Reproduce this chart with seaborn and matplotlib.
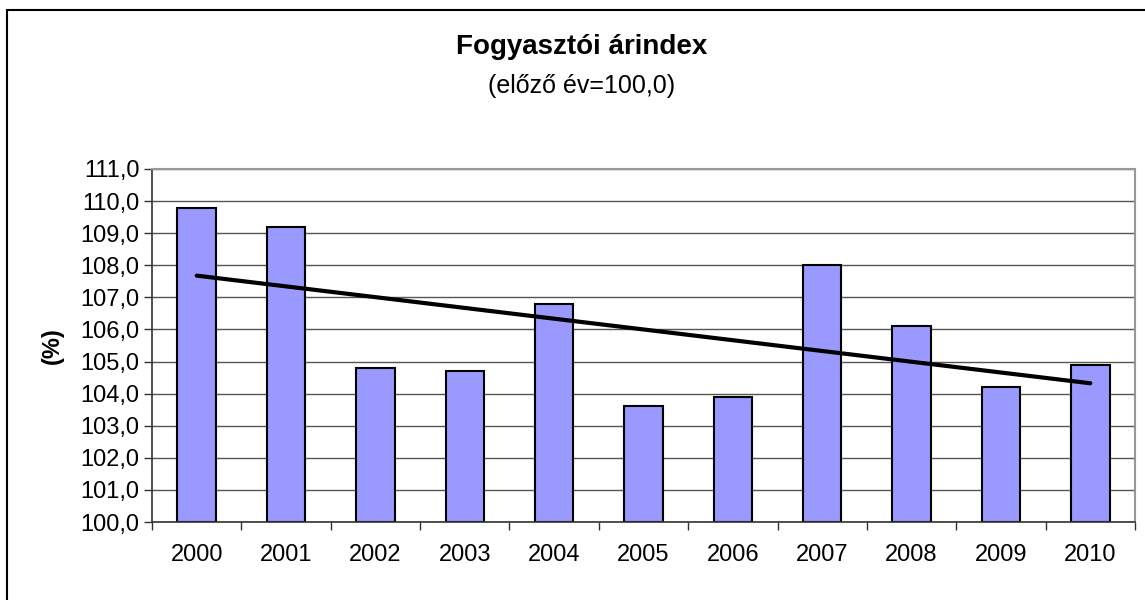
import numpy as np
import pandas as pd
import matplotlib
matplotlib.use("Agg")
import matplotlib.pyplot as plt
import seaborn as sns
from matplotlib.patches import Rectangle
from matplotlib.ticker import FuncFormatter, MultipleLocator, FixedLocator

years = ["2000", "2001", "2002", "2003", "2004", "2005", "2006", "2007", "2008", "2009", "2010"]
index = [109.8, 109.2, 104.8, 104.7, 106.8, 103.6, 103.9, 108.0, 106.1, 104.2, 104.9]

sns.set_theme(style="white")
plt.rcParams["font.family"] = ["Liberation Sans", "DejaVu Sans"]
plt.rcParams["text.color"] = "black"
plt.rcParams["axes.labelcolor"] = "black"
plt.rcParams["xtick.color"] = "black"
plt.rcParams["ytick.color"] = "black"

df = pd.DataFrame({"ev": years, "ertek": index})
df["pos"] = np.arange(len(years))

fig = plt.figure(figsize=(11.45, 6), dpi=100)
ax = fig.add_axes([152 / 1145, 78 / 600, (1135 - 152) / 1145, (522 - 169) / 600])

sns.barplot(data=df, x="ev", y="ertek", color="#9999ff", saturation=1,
            edgecolor="black", linewidth=1.5, width=0.43, ax=ax)
# bars start at 100
for p in ax.patches:
    h = p.get_height()
    p.set_y(100)
    p.set_height(h - 100)

sns.regplot(data=df, x="pos", y="ertek", scatter=False, ci=None,
            line_kws={"color": "black", "linewidth": 3}, ax=ax)

ax.set_xlim(-0.5, len(years) - 0.5)
ax.set_ylim(100, 111)
ax.yaxis.set_major_locator(MultipleLocator(1))
ax.yaxis.set_major_formatter(FuncFormatter(lambda v, _: f"{v:.1f}".replace(".", ",")))
ax.set_xticks(np.arange(len(years)))
ax.set_xticklabels(years)
ax.xaxis.set_minor_locator(FixedLocator(np.arange(-0.5, len(years), 1)))
ax.tick_params(axis="x", which="major", length=0, pad=16, labelsize=17)
ax.tick_params(axis="x", which="minor", length=6, width=1, color="#333333", direction="out", bottom=True)
ax.tick_params(axis="y", length=6, width=1, color="#333333", direction="out", left=True, labelsize=17, pad=3)
ax.grid(axis="y", color="#555555", linewidth=1)
ax.set_axisbelow(True)

for s in ["left", "bottom"]:
    ax.spines[s].set_color("#333333")
    ax.spines[s].set_linewidth(1.2)
for s in ["top", "right"]:
    ax.spines[s].set_color("#999999")
    ax.spines[s].set_linewidth(1.5)

ax.set_xlabel("")
ax.set_ylabel("(%)", fontsize=17, fontweight="bold", labelpad=12)

fig.text(0.508, 1 - 47 / 600, "Fogyasztói árindex", ha="center", va="center",
         fontsize=20, fontweight="bold")
fig.text(0.508, 1 - 86 / 600, "(előző év=100,0)", ha="center", va="center", fontsize=18)

fig.patches.append(Rectangle((7 / 1145, -0.1), 1.2, 1 - 10 / 600 + 0.1,
                             transform=fig.transFigure, fill=False,
                             edgecolor="black", linewidth=1.5, zorder=0))

fig.savefig("out.png", dpi=100)
